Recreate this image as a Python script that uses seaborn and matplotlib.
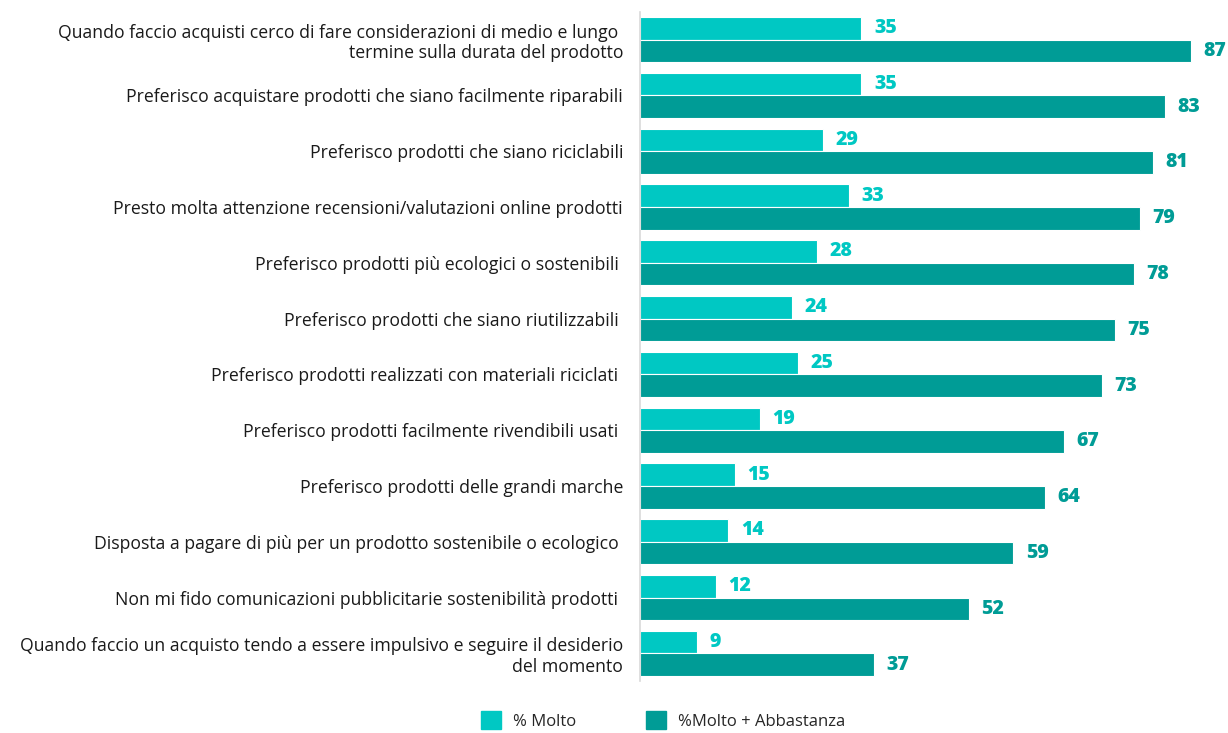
import pandas as pd
import seaborn as sns
import matplotlib.pyplot as plt

categories = [
    "Quando faccio acquisti cerco di fare considerazioni di medio e lungo \ntermine sulla durata del prodotto",
    "Preferisco acquistare prodotti che siano facilmente riparabili",
    "Preferisco prodotti che siano riciclabili",
    "Presto molta attenzione recensioni/valutazioni online prodotti",
    "Preferisco prodotti più ecologici o sostenibili ",
    "Preferisco prodotti che siano riutilizzabili ",
    "Preferisco prodotti realizzati con materiali riciclati ",
    "Preferisco prodotti facilmente rivendibili usati ",
    "Preferisco prodotti delle grandi marche",
    "Disposta a pagare di più per un prodotto sostenibile o ecologico ",
    "Non mi fido comunicazioni pubblicitarie sostenibilità prodotti ",
    "Quando faccio un acquisto tendo a essere impulsivo e seguire il desiderio\ndel momento",
]
molto = [35, 35, 29, 33, 28, 24, 25, 19, 15, 14, 12, 9]
molto_abbastanza = [87, 83, 81, 79, 78, 75, 73, 67, 64, 59, 52, 37]
series = ["% Molto", "%Molto + Abbastanza"]
colors = ["#00C8C3", "#009C96"]

df = pd.DataFrame({
    "categoria": categories * 2,
    "valore": molto + molto_abbastanza,
    "serie": [series[0]] * len(categories) + [series[1]] * len(categories),
})

sns.set_style("white")
plt.rcParams['font.family'] = ['Open Sans', 'DejaVu Sans']

fig = plt.figure(figsize=(12.28, 7.33), dpi=100)
ax = fig.add_axes([0.521, 0.0704, 0.479, 0.9136])

sns.barplot(data=df, y="categoria", x="valore", hue="serie", orient="h",
            palette=colors, saturation=1, width=0.81, edgecolor="white",
            linewidth=0.8, ax=ax, legend=False)

# etichette valori, leggermente abbassate come nell'originale
for cont, c in zip(ax.containers, colors):
    labels = ax.bar_label(cont, padding=9, color=c, fontsize=14, fontweight="heavy")
    for t in labels:
        t.set_y(0.08)

ax.set_xlim(0, 92.9)
ax.set_ylim(11.5, -0.5)
ax.set_xlabel("")
ax.set_ylabel("")
ax.set_xticks([])
ax.tick_params(axis="y", length=0, pad=12, labelsize=12.7, labelcolor="#1a1a1a")
for s in ["top", "right", "bottom"]:
    ax.spines[s].set_visible(False)
ax.spines["left"].set_color("#d9d9d9")
ax.spines["left"].set_linewidth(1.2)

handles = [plt.Rectangle((0, 0), 1, 1, color=c) for c in colors]
fig.legend(handles, series, loc="center", bbox_to_anchor=(0.54, 0.017),
           ncol=2, frameon=False, fontsize=12, handlelength=1.2,
           handleheight=1.2, columnspacing=4.2, handletextpad=0.7)

fig.savefig("out.png", dpi=100)
